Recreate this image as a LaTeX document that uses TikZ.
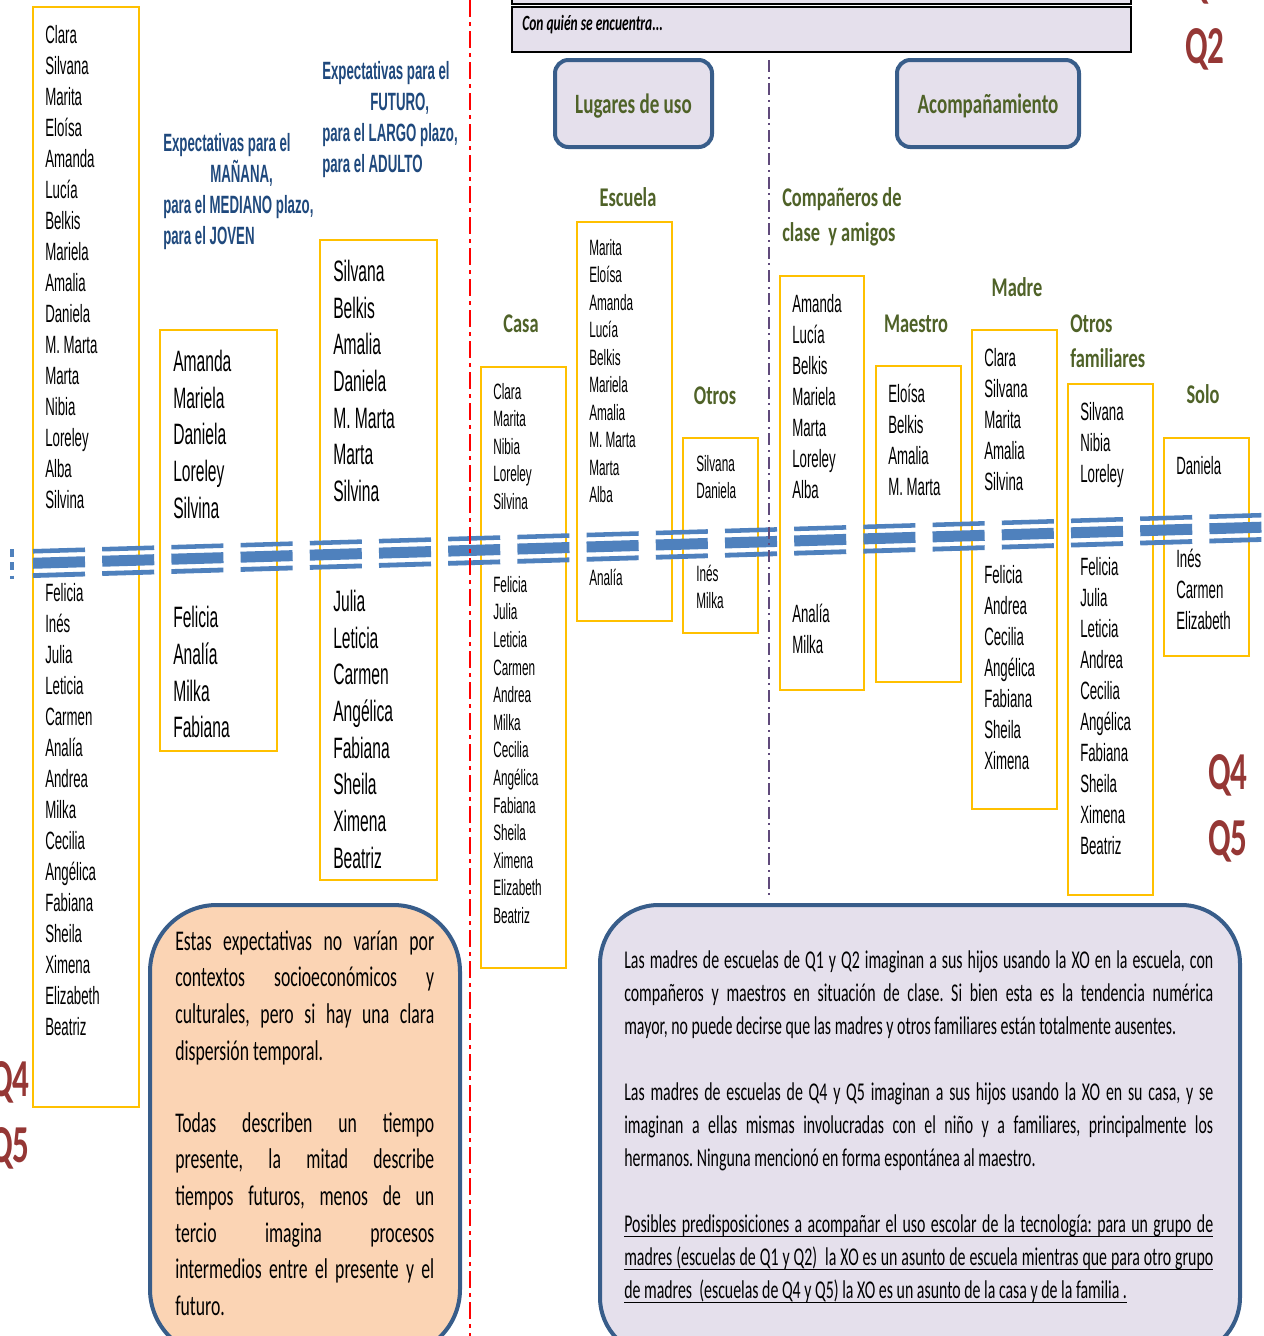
\documentclass[tikz,border=0pt]{standalone}
\usepackage{fontspec}
\setmainfont{Liberation Sans}
\newfontfamily\namefont[FakeStretch=0.53]{Liberation Sans}
\newfontfamily\parafont[FakeStretch=0.62]{Carlito}
\newfontfamily\headfont[FakeStretch=0.68]{Carlito}
\frenchspacing
\definecolor{yboxc}{HTML}{FFC000}
\definecolor{titleblue}{HTML}{1F497D}
\definecolor{hgreen}{HTML}{4F6228}
\definecolor{qred}{HTML}{953735}
\definecolor{bdblue}{HTML}{385D8A}
\definecolor{lav}{HTML}{E5E0EC}
\definecolor{peach}{HTML}{FBD4B4}
\definecolor{barblue}{HTML}{4F81BD}
\definecolor{divpurple}{HTML}{604A7B}
\newcommand\namelist[6]{%
  \foreach \nm [count=\k from 0] in {#6} {
    \node[nm, font=\namefont\fontsize{#5}{#5}\selectfont] (#1-\k) at (#2, #3+\k*#4) {\nm};
  }%
}
\newsavebox\ulbox
\newcommand\ulline[1]{\sbox\ulbox{#1}\rlap{\rule[-3.9pt]{\wd\ulbox}{0.95pt}}\usebox\ulbox}
\tikzset{
  ybox/.style={draw=yboxc, line width=1.6pt},
  nm/.style={anchor=base west, inner sep=0pt, text=black},
  bluet/.style={anchor=base west, inner sep=0pt, text=titleblue, font=\namefont\bfseries\fontsize{18.75}{18.75}\selectfont},
  greenh/.style={inner sep=0pt, text=hgreen, font=\headfont\bfseries\fontsize{20.25}{20.25}\selectfont},
  qlab/.style={inner sep=0pt, text=qred, anchor=base, font=\parafont\bfseries\fontsize{40}{40}\selectfont},
  tbox/.style={draw=bdblue, line width=3pt, fill=lav, rounded corners=10pt, inner sep=0pt},
  bar/.style={draw=barblue, line cap=butt},
  lpara/.style={anchor=base west, inner sep=0pt, font=\parafont\fontsize{21.4}{21.4}\selectfont},
  rpara/.style={anchor=base west, inner sep=0pt, font=\parafont\fontsize{19.2}{19.2}\selectfont},
}
\newcommand\LW{194.25pt}
\newcommand\RW{441.75pt}
\begin{document}
\begin{tikzpicture}[x=0.75pt,y=-0.75pt]
\useasboundingbox (0,0) rectangle (1264,1336);
\fill[white] (0,0) rectangle (1264,1336);

% top header boxes
\draw[fill=lav, draw=black, line width=1.5pt] (512,-30) rectangle (1131,4);
\draw[fill=lav, draw=black, line width=1.5pt] (512,7) rectangle (1131,52);
\node[anchor=base west, inner sep=0pt, font=\parafont\bfseries\itshape\fontsize{16.3}{16.3}\selectfont] (conq) at (522,30) {Con quién se encuentra...};

% Q labels
\node[qlab] (q1) at (1205,-3) {Q1};
\node[qlab] (q2) at (1205,63) {Q2};
\node[qlab] (q4r) at (1228,789) {Q4};
\node[qlab] (q5r) at (1228,855) {Q5};
\node[qlab, anchor=base west] (q4l) at (-10,1096) {Q4};
\node[qlab, anchor=base west] (q5l) at (-10,1162) {Q5};

% title boxes
\node[tbox, minimum width=117.75pt, minimum height=65.25pt] (lug) at (633.5,103.5) {};
\node[greenh, anchor=base, font=\headfont\bfseries\fontsize{21}{21}\selectfont] (lugT) at (633.5,113) {Lugares de uso};
\node[tbox, minimum width=136.5pt, minimum height=65.25pt] (aco) at (988,103.5) {};
\node[greenh, anchor=base, font=\headfont\bfseries\fontsize{21}{21}\selectfont] (acoT) at (988,113) {Acompañamiento};

% blue titles
\node[bluet] (m1) at (163,151) {Expectativas para el};
\node[bluet] (m2) at (210,182) {MAÑANA,};
\node[bluet] (m3) at (163,213) {para el MEDIANO plazo,};
\node[bluet] (m4) at (163,244) {para el JOVEN};
\node[bluet] (f1) at (322,79) {Expectativas para el};
\node[bluet] (f2) at (370,110) {FUTURO,};
\node[bluet] (f3) at (322,141) {para el LARGO plazo,};
\node[bluet] (f4) at (322,172) {para el ADULTO};

% green headings
\node[greenh, anchor=base] (hEsc) at (628,206) {Escuela};
\node[greenh, anchor=base] (hCasa) at (521,332) {Casa};
\node[greenh, anchor=base] (hOtros) at (715,404) {Otros};
\node[greenh, anchor=base west] (hComp1) at (782,206) {Compañeros de};
\node[greenh, anchor=base west] (hComp2) at (782,241) {clase \ y amigos};
\node[greenh, anchor=base] (hMae) at (916,332) {Maestro};
\node[greenh, anchor=base] (hMad) at (1017,296) {Madre};
\node[greenh, anchor=base west] (hOF1) at (1070,332) {Otros};
\node[greenh, anchor=base west] (hOF2) at (1070,367) {familiares};
\node[greenh, anchor=base] (hSolo) at (1203,403) {Solo};

% yellow boxes
\draw[ybox] (33,7) rectangle (139,1107);
\draw[ybox] (160,330) rectangle (277,751);
\draw[ybox] (320,240) rectangle (437,880);
\draw[ybox] (481,367) rectangle (566,968);
\draw[ybox] (577,222) rectangle (672,621);
\draw[ybox] (683,438) rectangle (758,633);
\draw[ybox] (780,276) rectangle (864,690);
\draw[ybox] (876,366) rectangle (961,682);
\draw[ybox] (972,330) rectangle (1057,809);
\draw[ybox] (1068,384) rectangle (1153,895);
\draw[ybox] (1164,438) rectangle (1249,656);

% name lists
\namelist{L}{45}{43}{31}{18.75}{Clara,Silvana,Marita,Eloísa,Amanda,Lucía,Belkis,Mariela,Amalia,Daniela,M. Marta,Marta,Nibia,Loreley,Alba,Silvina,{},{},Felicia,Inés,Julia,Leticia,Carmen,Analía,Andrea,Milka,Cecilia,Angélica,Fabiana,Sheila,Ximena,Elizabeth,Beatriz}
\namelist{M}{173}{371.6}{36.6}{22.1}{Amanda,Mariela,Daniela,Loreley,Silvina,{},{},Felicia,Analía,Milka,Fabiana}
\namelist{F}{333}{281.6}{36.65}{22.1}{Silvana,Belkis,Amalia,Daniela,M. Marta,Marta,Silvina,{},{},Julia,Leticia,Carmen,Angélica,Fabiana,Sheila,Ximena,Beatriz}
\namelist{C}{493}{399}{27.6}{16.65}{Clara,Marita,Nibia,Loreley,Silvina,{},{},Felicia,Julia,Leticia,Carmen,Andrea,Milka,Cecilia,Angélica,Fabiana,Sheila,Ximena,Elizabeth,Beatriz}
\namelist{E}{589}{255}{27.5}{16.65}{Marita,Eloísa,Amanda,Lucía,Belkis,Mariela,Amalia,M. Marta,Marta,Alba,{},{},Analía}
\namelist{O}{696}{471}{27.5}{16.65}{Silvana,Daniela,{},{},Inés,Milka}
\namelist{P}{792}{312}{31}{18.75}{Amanda,Lucía,Belkis,Mariela,Marta,Loreley,Alba,{},{},{},Analía,Milka}
\namelist{T}{888}{402}{31}{18.75}{Eloísa,Belkis,Amalia,M. Marta}
\namelist{D}{984}{366}{31}{18.75}{Clara,Silvana,Marita,Amalia,Silvina,{},{},Felicia,Andrea,Cecilia,Angélica,Fabiana,Sheila,Ximena}
\namelist{R}{1080}{420}{31}{18.75}{Silvana,Nibia,Loreley,{},{},Felicia,Julia,Leticia,Andrea,Cecilia,Angélica,Fabiana,Sheila,Ximena,Beatriz}
\namelist{S}{1176}{474}{31}{18.75}{Daniela,{},{},Inés,Carmen,Elizabeth}

% break bars
\foreach \i in {0,...,17}{
  \pgfmathsetmacro\xa{33+69.2*\i}
  \pgfmathsetmacro\xb{\xa+52}
  \pgfmathsetmacro\ya{562.5-0.02936*(\xa-59)}
  \pgfmathsetmacro\yb{562.5-0.02936*(\xb-59)}
  \draw[bar, line width=3.4pt] (\xa,\ya-12) -- (\xb,\yb-12);
  \draw[bar, line width=8.25pt] (\xa,\ya) -- (\xb,\yb);
  \draw[bar, line width=3.6pt] (\xa,\ya+12.3) -- (\xb,\yb+12.3);
}
\coordinate (bt) at (12,549);
\coordinate (bb) at (12,579);
\draw[barblue, line width=3pt, dash pattern=on 6pt off 4pt] (bt) -- (bb);

% dividers
\coordinate (redtop) at (470,0);
\coordinate (redbot) at (470,1336);
\draw[red, line width=1.9pt, dash pattern=on 12.75pt off 3.75pt on 3pt off 3.75pt] (redtop) -- (redbot);
\coordinate (purtop) at (769,60);
\coordinate (purbot) at (769,895);
\draw[divpurple, line width=1.5pt, dash pattern=on 9pt off 3.5pt on 1.5pt off 3.5pt] (purtop) -- (purbot);

% bottom boxes
\draw[fill=peach, draw=bdblue, line width=3pt, rounded corners=50pt] (150,905) rectangle (460,1356);
\draw[fill=lav, draw=bdblue, line width=3pt, rounded corners=44pt] (600,905) rectangle (1240,1356);

\node[lpara] (l1) at (175,950) {\makebox[\LW][s]{Estas expectativas no varían por}};
\node[lpara] (l2) at (175,986.7) {\makebox[\LW][s]{contextos socioeconómicos y}};
\node[lpara] (l3) at (175,1023.4) {\makebox[\LW][s]{culturales, pero si hay una clara}};
\node[lpara] (l4) at (175,1060.1) {dispersión temporal.};
\node[lpara] (l5) at (175,1132) {\makebox[\LW][s]{Todas describen un tiempo}};
\node[lpara] (l6) at (175,1168.7) {\makebox[\LW][s]{presente, la mitad describe}};
\node[lpara] (l7) at (175,1205.4) {\makebox[\LW][s]{tiempos futuros, menos de un}};
\node[lpara] (l8) at (175,1242.1) {\makebox[\LW][s]{tercio imagina procesos}};
\node[lpara] (l9) at (175,1278.8) {\makebox[\LW][s]{intermedios entre el presente y el}};
\node[lpara] (l10) at (175,1315.5) {futuro.};

\node[rpara] (r1) at (624,968) {\makebox[\RW][s]{Las madres de escuelas de Q1 y Q2 imaginan a sus hijos usando la XO en la escuela, con}};
\node[rpara] (r2) at (624,1001) {\makebox[\RW][s]{compañeros y maestros en situación de clase. Si bien esta es la tendencia numérica}};
\node[rpara] (r3) at (624,1034) {mayor, no puede decirse que las madres y otros familiares están totalmente ausentes.};
\node[rpara] (r4) at (624,1100) {\makebox[\RW][s]{Las madres de escuelas de Q4 y Q5 imaginan a sus hijos usando la XO en su casa, y se}};
\node[rpara] (r5) at (624,1133) {\makebox[\RW][s]{imaginan a ellas mismas involucradas con el niño y a familiares, principalmente los}};
\node[rpara] (r6) at (624,1166) {hermanos. Ninguna mencionó en forma espontánea al maestro.};
\node[rpara] (r7) at (624,1232) {\ulline{\makebox[\RW][s]{Posibles predisposiciones a acompañar el uso escolar de la tecnología: para un grupo de}}};
\node[rpara] (r8) at (624,1265) {\ulline{\makebox[\RW][s]{madres (escuelas de Q1 y Q2) \ la XO es un asunto de escuela mientras que para otro grupo}}};
\node[rpara] (r9) at (624,1298) {\ulline{de madres \ (escuelas de Q4 y Q5) la XO es un asunto de la casa y de la familia .}};
\end{tikzpicture}
\end{document}
